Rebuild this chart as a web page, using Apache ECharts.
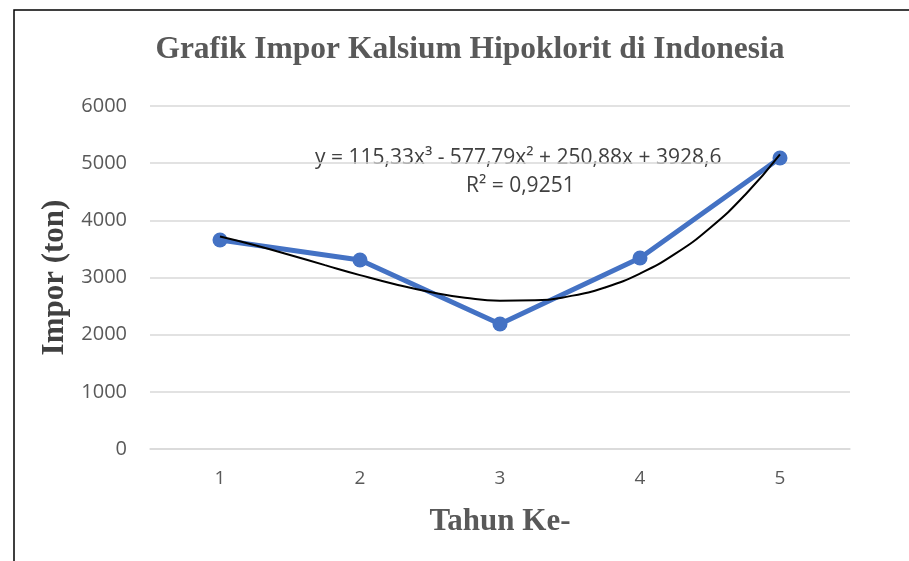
<!DOCTYPE html>
<html lang="en" style="height: 100%">
<head>
    <meta charset="utf-8">
</head>
<body style="height: 100%; margin: 0; background: #ffffff">
<div id="container" style="width: 909px; height: 561px"></div>
<script type="text/javascript" src="https://fastly.jsdelivr.net/npm/echarts@6.0.0/dist/echarts.min.js"></script>
<script type="text/javascript">

    // data
    const tahun = ['1', '2', '3', '4', '5'];
    const impor = [3656, 3306, 2187, 3341, 5090];

    // polynomial trendline, estimated along the curve
    const trendX = [1, 1.25, 1.5, 1.75, 2, 2.25, 2.5, 2.75, 3, 3.25, 3.5, 3.75, 4, 4.25, 4.5, 4.75, 5];
    const trendY = [3717, 3565, 3394, 3216, 3042, 2882, 2747, 2647, 2595, 2600, 2674, 2826, 3069, 3412, 3867, 4444, 5155];

    const yTicks = [0, 6000, 1000];

    const persamaan = 'y = 115,33x³ - 577,79x² + 250,88x + 3928,6';
    const rKuadrat = 'R² = 0,9251';

    const serif = '"Liberation Serif", "DejaVu Serif", serif';
    const sans = '"Open Sans", "Liberation Sans", sans-serif';

    var dom = document.getElementById('container');
    var myChart = echarts.init(dom, null, {renderer: 'canvas'});

    const option = {
        animation: false,
        backgroundColor: '#ffffff',
        title: {
            text: 'Grafik Impor Kalsium Hipoklorit di Indonesia',
            left: 465,
            top: 29,
            textAlign: 'center',
            textStyle: {
                fontFamily: serif,
                fontSize: 31.5,
                fontWeight: 'bold',
                color: '#595959'
            }
        },
        grid: {
            left: 150,
            right: 59,
            top: 106,
            bottom: 112
        },
        xAxis: [
            {
                type: 'category',
                data: tahun,
                boundaryGap: true,
                name: 'Tahun Ke-',
                nameLocation: 'middle',
                nameGap: 57,
                nameTextStyle: {
                    fontFamily: serif,
                    fontSize: 31,
                    fontWeight: 'bold',
                    color: '#595959'
                },
                axisLine: {lineStyle: {color: '#d9d9d9', width: 1.5}},
                axisTick: {show: false},
                axisLabel: {
                    margin: 20,
                    fontFamily: sans,
                    fontSize: 19,
                    color: '#595959'
                }
            },
            {
                type: 'value',
                min: 0.5,
                max: 5.5,
                show: false
            }
        ],
        yAxis: {
            type: 'value',
            min: yTicks[0],
            max: yTicks[1],
            interval: yTicks[2],
            name: 'Impor (ton)',
            nameLocation: 'middle',
            nameGap: 80,
            nameTextStyle: {
                fontFamily: serif,
                fontSize: 31,
                fontWeight: 'bold',
                color: '#404040'
            },
            axisLine: {show: false},
            axisTick: {show: false},
            splitLine: {lineStyle: {color: '#d9d9d9', width: 1.5}},
            axisLabel: {
                margin: 23,
                fontFamily: sans,
                fontSize: 20,
                color: '#595959',
                formatter: v => String(v)
            }
        },
        series: [
            {
                type: 'line',
                data: impor,
                xAxisIndex: 0,
                color: '#4472c4',
                lineStyle: {width: 5},
                symbol: 'circle',
                symbolSize: 15,
                z: 2
            },
            {
                type: 'line',
                xAxisIndex: 1,
                data: trendX.map((x, i) => [x, trendY[i]]),
                smooth: true,
                symbol: 'none',
                lineStyle: {color: '#000000', width: 2},
                z: 3
            }
        ],
        graphic: [
            {
                type: 'text',
                left: 315,
                top: 148,
                style: {
                    text: persamaan,
                    font: '21px ' + sans,
                    fill: '#404040'
                }
            },
            {
                type: 'text',
                left: 466,
                top: 176,
                style: {
                    text: rKuadrat,
                    font: '21px ' + sans,
                    fill: '#404040'
                }
            },
            {
                type: 'polyline',
                shape: {points: [[14, 561], [14, 10], [909, 10]]},
                style: {stroke: '#000000', lineWidth: 1.5, fill: null}
            }
        ]
    };

    myChart.setOption(option);

</script>
</body>
</html>
